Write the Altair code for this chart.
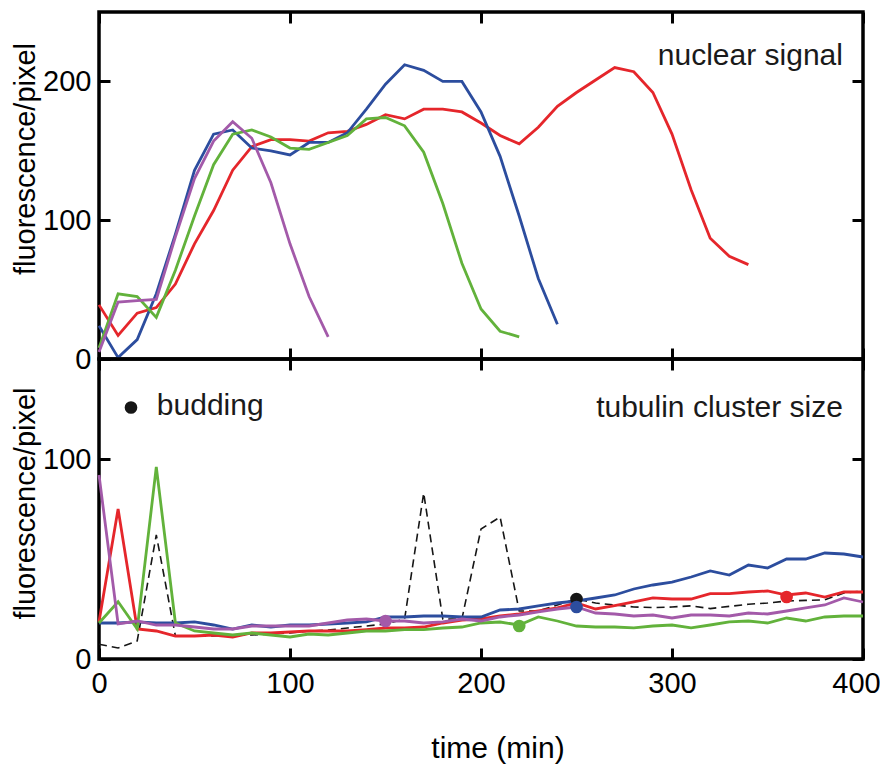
import altair as alt
import pandas as pd

STEP = 10  # sampling interval (min)

# ---- nuclear signal (top panel) ----
top_red = [39, 17, 33, 37, 54, 83, 107, 136, 153, 158, 158, 157, 163, 164, 169, 176, 173, 180,
           180, 178, 170, 161, 155, 167, 182, 192, 201, 210, 207, 192, 162, 122, 87, 74, 68]
top_blue = [24, 1, 14, 47, 90, 136, 162, 165, 152, 150, 147, 156, 156, 163, 180, 198, 212, 208,
            200, 200, 178, 146, 103, 58, 25]
top_green = [8, 47, 45, 30, 64, 103, 140, 162, 165, 160, 152, 151, 156, 161, 173, 174, 168, 149,
             112, 69, 36, 20, 16]
top_purple = [5, 41, 42, 43, 88, 130, 157, 171, 159, 127, 83, 45, 16]

# ---- tubulin cluster size (bottom panel) ----
bot_blue = [18, 18, 18.6, 18, 18, 18.6, 17, 15, 17, 16, 17, 17, 17.5, 18, 18.6, 21, 21, 21.5, 21.5,
            21, 21, 24.5, 25, 26.6, 28, 29, 30.5, 32, 35, 37, 38.4, 41, 44, 42, 47, 45.5, 50, 50,
            53, 52.5, 51]
bot_red = [18.6, 75, 15, 14, 11.5, 11.5, 12, 11, 13, 13, 13.5, 14, 14, 14, 14.7, 15.5, 15.5, 16,
           18, 19.5, 20, 21.6, 22.5, 24, 25.6, 28, 25, 26.7, 28.6, 30.6, 30, 30, 32.7, 32.7, 33.5,
           34, 32, 33, 31, 33.5, 33.5]
bot_purple = [92, 17.5, 19, 17, 17, 16, 15, 15, 16.5, 16.5, 16.5, 16.5, 18, 19.5, 20, 19, 19, 18,
              18.6, 20, 19, 21, 22, 23.6, 25, 26, 23, 22.5, 21.5, 22, 20.5, 22, 22, 21.5, 23, 22.5,
              24, 25.6, 27, 30.5, 28.5]
bot_green = [18, 28.6, 15, 96, 18, 14, 13, 12, 13, 12, 11, 12.5, 12, 13, 14, 14, 14.7, 14.7, 15.5,
             16, 18, 18.5, 17, 21, 19, 16.5, 16, 16, 15.6, 16.5, 17, 15.6, 17, 18.6, 19, 18, 20.5,
             19, 21, 21.5, 21.5]
bot_ctrl = [7.4, 5.5, 9, 62, 11.5, 11.5, 11.5, 12, 12, 12.5, 13, 14, 14.5, 15.5, 16.5, 17.5, 20,
            83, 20, 20, 65, 71, 24, 24, 27, 30, 28, 27, 26, 25.7, 26, 26.6, 25.2, 26.3, 27.4, 28,
            29, 29.3, 29.6, 33, 34]

# budding events
bud_series = ["purple", "green", "ctrl", "blue", "red"]
bud_t = [150, 220, 250, 250, 360]
bud_v = [19, 16.5, 30, 26, 31]

# legend / annotations
legend_dot_t, legend_dot_v = [16.75], [125.75]
legend_txt_t, legend_txt_v, legend_txt = [30.3], [122], ["budding"]
top_note_t, top_note_v, top_note = [389.5], [212], ["nuclear signal"]
bot_note_t, bot_note_v, bot_note = [389.5], [121], ["tubulin cluster size"]

SERIES = ["red", "blue", "green", "purple", "ctrl"]
COLORS = ["#e5262b", "#2c4d9e", "#62b23b", "#a35aa9", "#161616"]

FONT = "Liberation Sans"
FS = 29      # tick labels / axis titles
FT = 30      # annotations and x title
W, H1, H2 = 764, 347, 300


def long(d):
    rows = []
    for name, vals in d.items():
        for i, v in enumerate(vals):
            rows.append({"t": i * STEP, "v": v, "s": name})
    return pd.DataFrame(rows)


top_df = long({"red": top_red, "blue": top_blue, "green": top_green, "purple": top_purple})
bot_df = long({"red": bot_red, "blue": bot_blue, "green": bot_green, "purple": bot_purple})
ctrl_df = long({"ctrl": bot_ctrl})
bud_df = pd.DataFrame({"t": bud_t, "v": bud_v, "s": bud_series})

xscale = alt.Scale(domain=[0, 400], nice=False, zero=False)
yscale_top = alt.Scale(domain=[0, 250], nice=False, zero=False)
yscale_bot = alt.Scale(domain=[0, 150], nice=False, zero=False)
cscale = alt.Scale(domain=SERIES, range=COLORS)

TK = dict(domain=False, grid=False, ticks=True, tickSize=11, offset=-11, tickWidth=3,
          tickColor="black", minExtent=0)
XV = [0, 100, 200, 300, 400]

# ---------------- top panel ----------------
top_lines = alt.Chart(top_df).mark_line(strokeWidth=2.8).encode(
    x=alt.X("t:Q", scale=xscale,
            axis=alt.Axis(orient="bottom", values=XV, labels=False, title=None, **TK)),
    y=alt.Y("v:Q", scale=yscale_top,
            axis=alt.Axis(orient="left", values=[0, 100, 200], labelFontSize=FS, labelPadding=8,
                          labelColor="black", title="fluorescence/pixel", titleFontSize=FS,
                          titleFontWeight="normal", titleColor="black", titleAngle=270,
                          titleX=-76, titleY=146.5, titleAlign="center",
                          titleBaseline="alphabetic", **TK)),
    color=alt.Color("s:N", scale=cscale, legend=None),
)
top_text = alt.Chart(pd.DataFrame({"t": top_note_t, "v": top_note_v, "label": top_note})).mark_text(
    font=FONT, fontSize=FT, align="right", baseline="alphabetic", color="#1a1a1a"
).encode(
    x=alt.X("t:Q", scale=xscale,
            axis=alt.Axis(orient="top", values=XV, labels=False, title=None, **TK)),
    y=alt.Y("v:Q", scale=yscale_top,
            axis=alt.Axis(orient="right", values=[0, 100, 200], labels=False, title=None, **TK)),
    text="label:N",
)
top = alt.layer(top_lines, top_text).resolve_axis(x="independent", y="independent").properties(
    width=W, height=H1)

# ---------------- bottom panel ----------------
ctrl_line = alt.Chart(ctrl_df).mark_line(strokeWidth=1.6, strokeDash=[8, 5], color="#161616").encode(
    x=alt.X("t:Q", scale=xscale, axis=None),
    y=alt.Y("v:Q", scale=yscale_bot, axis=None),
)
bot_lines = alt.Chart(bot_df).mark_line(strokeWidth=2.8).encode(
    x=alt.X("t:Q", scale=xscale,
            axis=alt.Axis(orient="bottom", values=XV, labels=True, labelFontSize=FS,
                          labelPadding=10, labelFlush=False, labelColor="black",
                          labelOffset={"condition": {"test": "datum.value === 400", "value": -7},
                                       "value": 0},
                          title="time (min)", titleFontSize=FT, titleFontWeight="normal",
                          titleColor="black", titleX=398.5, titleY=109.5, titleAlign="center",
                          titleBaseline="alphabetic", **TK)),
    y=alt.Y("v:Q", scale=yscale_bot,
            axis=alt.Axis(orient="left", values=[0, 100], labelFontSize=FS, labelPadding=8,
                          labelColor="black", title="fluorescence/pixel", titleFontSize=FS,
                          titleFontWeight="normal", titleColor="black", titleAngle=270,
                          titleX=-76, titleY=144, titleAlign="center",
                          titleBaseline="alphabetic", **TK)),
    color=alt.Color("s:N", scale=cscale, legend=None),
)
bud_dots = alt.Chart(bud_df).mark_circle(size=160, opacity=1).encode(
    x=alt.X("t:Q", scale=xscale, axis=None),
    y=alt.Y("v:Q", scale=yscale_bot, axis=None),
    color=alt.Color("s:N", scale=cscale, legend=None),
)
leg_dot = alt.Chart(pd.DataFrame({"t": legend_dot_t, "v": legend_dot_v})).mark_circle(
    size=160, opacity=1, color="#161616").encode(
    x=alt.X("t:Q", scale=xscale, axis=None),
    y=alt.Y("v:Q", scale=yscale_bot, axis=None),
)
leg_txt = alt.Chart(pd.DataFrame({"t": legend_txt_t, "v": legend_txt_v, "label": legend_txt})).mark_text(
    font=FONT, fontSize=FT, align="left", baseline="alphabetic", color="#1a1a1a").encode(
    x=alt.X("t:Q", scale=xscale, axis=None),
    y=alt.Y("v:Q", scale=yscale_bot, axis=None),
    text="label:N",
)
bot_text = alt.Chart(pd.DataFrame({"t": bot_note_t, "v": bot_note_v, "label": bot_note})).mark_text(
    font=FONT, fontSize=FT, align="right", baseline="alphabetic", color="#1a1a1a"
).encode(
    x=alt.X("t:Q", scale=xscale,
            axis=alt.Axis(orient="top", values=XV, labels=False, title=None, **TK)),
    y=alt.Y("v:Q", scale=yscale_bot,
            axis=alt.Axis(orient="right", values=[0, 100], labels=False, title=None, **TK)),
    text="label:N",
)
bottom = alt.layer(ctrl_line, bot_lines, bud_dots, leg_dot, leg_txt, bot_text).resolve_axis(
    x="independent", y="independent").properties(width=W, height=H2)

chart = alt.vconcat(top, bottom, spacing=0, bounds="flush").properties(
    padding={"left": 1, "top": 0, "right": -2, "bottom": 3}
).configure_axis(
    labelFont=FONT, titleFont=FONT
).configure_text(font=FONT).configure_view(stroke="black", strokeWidth=3.5)

chart.save("out.html", embed_options={"renderer": "svg", "actions": False})
